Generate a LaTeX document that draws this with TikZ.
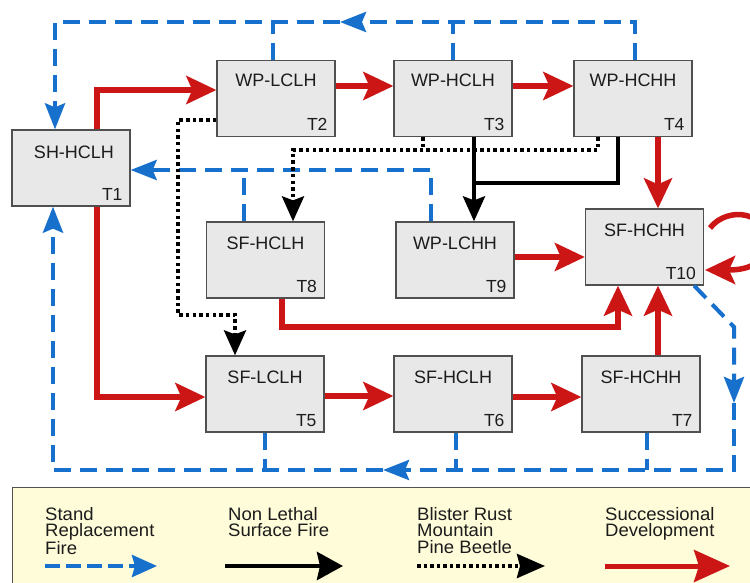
\documentclass[tikz,border=0pt]{standalone}
\usepackage{fontspec}
\setmainfont{Liberation Sans}
\newfontfamily\legendfont[FakeStretch=1.03]{Liberation Sans}
\usetikzlibrary{arrows.meta,calc}
\definecolor{succred}{RGB}{204,22,22}
\definecolor{fireblue}{RGB}{22,112,204}
\definecolor{boxfill}{RGB}{232,232,232}
\definecolor{boxline}{RGB}{80,80,80}
\definecolor{legfill}{RGB}{255,252,218}
\definecolor{textc}{RGB}{28,28,28}
\begin{document}
\begin{tikzpicture}[x=1pt,y=-1pt,
  box/.style={draw=boxline, line width=1.3pt, fill=boxfill, minimum width=118pt, minimum height=76pt, inner sep=0pt},
  nm/.style={font=\fontsize{18}{20}\selectfont, text=textc, inner sep=0pt},
  tg/.style={font=\fontsize{17.5}{20}\selectfont, text=textc, inner sep=0pt, anchor=south east},
  lg/.style={font=\legendfont\fontsize{18}{16.5}\selectfont, text=textc, inner sep=0pt, anchor=north west, align=left},
  succ/.style={draw=succred, line width=5.5pt, -{Stealth[length=30pt,width=28pt,inset=6pt]}},
  fire/.style={draw=fireblue, line width=4pt, dash pattern=on 17pt off 9pt},
  firetip/.style={fire, -{Stealth[length=26pt,width=20pt,inset=4pt]}},
  nlf/.style={draw=black, line width=4pt},
  nlftip/.style={nlf, -{Stealth[length=25pt,width=22pt,inset=4pt]}},
  rust/.style={draw=black, line width=3.5pt, dash pattern=on 3.5pt off 3.2pt},
  rusttip/.style={rust, -{Stealth[length=25pt,width=22pt,inset=4pt]}},
]
\useasboundingbox[fill=white] (0,0) rectangle (750,583);

% ---------- boxes ----------
\node[box] (t1) at (71,168) {};
\node[box] (t2) at (276,98.5) {};
\node[box] (t3) at (453,98.5) {};
\node[box] (t4) at (633,98.5) {};
\node[box] (t8) at (265.5,260) {};
\node[box] (t9) at (455,260) {};
\node[box] (t10) at (644.5,247) {};
\node[box] (t5) at (265,394) {};
\node[box] (t6) at (453,394) {};
\node[box] (t7) at (641,394) {};

\node[nm] (n1) at ([xshift=3pt,yshift=-23pt]t1.north) {SH-HCLH};
\node[nm] (n2) at ([yshift=-20pt]t2.north) {WP-LCLH};
\node[nm] (n3) at ([yshift=-20pt]t3.north) {WP-HCLH};
\node[nm] (n4) at ([yshift=-20pt]t4.north) {WP-HCHH};
\node[nm] (n8) at ([yshift=-22pt]t8.north) {SF-HCLH};
\node[nm] (n9) at ([yshift=-22pt]t9.north) {WP-LCHH};
\node[nm] (n10) at ([yshift=-22pt]t10.north) {SF-HCHH};
\node[nm] (n5) at ([yshift=-22pt]t5.north) {SF-LCLH};
\node[nm] (n6) at ([yshift=-22pt]t6.north) {SF-HCLH};
\node[nm] (n7) at ([yshift=-22pt]t7.north) {SF-HCHH};

\node[tg] (g1) at ([xshift=-8pt,yshift=6pt]t1.south east) {T1};
\node[tg] (g2) at ([xshift=-8pt,yshift=6pt]t2.south east) {T2};
\node[tg] (g3) at ([xshift=-8pt,yshift=6pt]t3.south east) {T3};
\node[tg] (g4) at ([xshift=-8pt,yshift=6pt]t4.south east) {T4};
\node[tg] (g8) at ([xshift=-8pt,yshift=6pt]t8.south east) {T8};
\node[tg] (g9) at ([xshift=-8pt,yshift=6pt]t9.south east) {T9};
\node[tg] (g10) at ([xshift=-8pt,yshift=6pt]t10.south east) {T10};
\node[tg] (g5) at ([xshift=-8pt,yshift=6pt]t5.south east) {T5};
\node[tg] (g6) at ([xshift=-8pt,yshift=6pt]t6.south east) {T6};
\node[tg] (g7) at ([xshift=-8pt,yshift=6pt]t7.south east) {T7};

% ---------- stand replacement fire (blue dashed) ----------
\coordinate (ft) at (340,22);
\coordinate (c4) at ([xshift=2pt]t4.north);
\coordinate (c1) at ([xshift=-16pt]t1.north);
\coordinate (b2) at ([xshift=-3pt]t2.north);
\coordinate (b3) at (t3.north);
\draw[firetip] (c4) |- (ft);
\draw[firetip] (ft) -| (c1);
\draw[fire] (b2) -- (b2 |- ft);
\draw[fire] (b3) -- (b3 |- ft);

\coordinate (c9) at ([xshift=-24pt]t9.north);
\coordinate (e1) at ([yshift=-2pt]t1.east);
\coordinate (b8) at ([xshift=-21.5pt]t8.north);
\draw[firetip] (c9) |- (e1);
\draw[fire] (b8) -- (b8 |- e1);

\coordinate (d10) at ([xshift=-10pt]t10.south east);
\coordinate (dk) at (734,327);
\coordinate (dv) at (734,403);
\coordinate (dc) at (734,470);
\coordinate (dh) at (383,470);
\coordinate (u1) at ([xshift=-18pt]t1.south);
\draw[firetip] (d10) -- (dk) -- (dv);
\draw[firetip] (dv) -- (dc) -- (dh);
\draw[firetip] (dh) -| (u1);
\coordinate (b5) at (t5.south);
\coordinate (b6) at ([xshift=3pt]t6.south);
\coordinate (b7) at ([xshift=6pt]t7.south);
\draw[fire] (b5) -- (b5 |- dc);
\draw[fire] (b6) -- (b6 |- dc);
\draw[fire] (b7) -- (b7 |- dc);

% ---------- non lethal surface fire (black) ----------
\coordinate (s3) at ([xshift=21pt]t3.south);
\coordinate (s4) at ([xshift=-15pt]t4.south);
\coordinate (j) at (474,183);
\draw[nlf] (s4) |- (j);
\draw[nlftip] (s3) -- (s3 |- t9.north);

% ---------- blister rust / pine beetle (dotted) ----------
\coordinate (w2) at ([yshift=-21.5pt]t2.west);
\coordinate (rk1) at (178,315);
\coordinate (r5) at ([xshift=-30pt]t5.north);
\draw[rusttip] (w2) -| (rk1) -| (r5);
\coordinate (r3) at ([xshift=-30pt]t3.south);
\coordinate (r4) at ([xshift=-35pt]t4.south);
\coordinate (rk2) at (293,150);
\coordinate (r8) at ([xshift=27.5pt]t8.north);
\draw[rust] (r3) -- (r3 |- rk2);
\draw[rusttip] (r4) |- (rk2) -- (r8);

% ---------- successional development (red) ----------
\draw[succ] ([xshift=26pt]t1.north) |- ([yshift=8.5pt]t2.west);
\draw[succ] ([xshift=26pt]t1.south) |- ([yshift=-3pt]t5.west);
\draw[succ] ([yshift=12.5pt]t2.east) -- ([yshift=12.5pt]t3.west);
\draw[succ] ([yshift=12.5pt]t3.east) -- ([yshift=12.5pt]t4.west);
\draw[succ] ([xshift=25pt]t4.south) -- ([xshift=13.5pt]t10.north);
\draw[succ] ([yshift=3pt]t9.east) -- ([yshift=-10pt]t10.west);
\coordinate (k8) at (282,327);
\draw[succ] ([xshift=16.5pt]t8.south) -- (k8) -| ([xshift=-26.5pt]t10.south);
\draw[succ] ([xshift=17pt]t7.north) -- ([xshift=13.5pt]t10.south);
\draw[succ] ([yshift=-2pt]t5.east) -- ([yshift=-2pt]t6.west);
\draw[succ] ([yshift=-3pt]t6.east) -- ([yshift=-3pt]t7.west);
\coordinate (lp1) at (710,228);
\coordinate (lp2) at (705,270);
\draw[succ] (lp1) .. controls (728,205) and (770,212) .. (766,245) .. controls (763,266) and (745,270) .. (lp2);

% ---------- legend ----------
\node[draw=boxline, line width=1.3pt, fill=legfill, minimum width=760pt, minimum height=120pt, anchor=north west, inner sep=0pt] (legend) at (12,487) {};
\node[lg] (lt1) at (45,507) {Stand\\Replacement\\Fire};
\node[lg] (lt2) at (228,507) {Non Lethal\\Surface Fire};
\node[lg] (lt3) at (417,507) {Blister Rust\\Mountain\\Pine Beetle};
\node[lg] (lt4) at (605,507) {Successional\\Development};
\coordinate (la1) at (45,566); \coordinate (la2) at (157,566);
\coordinate (lb1) at (225,566); \coordinate (lb2) at (343,566);
\coordinate (lc1) at (417,566); \coordinate (lc2) at (545,566);
\coordinate (ld1) at (605,566); \coordinate (ld2) at (730,566);
\draw[draw=fireblue, line width=4pt, dash pattern=on 15pt off 6pt, -{Stealth[length=25pt,width=22pt,inset=3pt]}] (la1) -- (la2);
\draw[nlf, line width=4.5pt, -{Stealth[length=26pt,width=28pt,inset=3pt]}] (lb1) -- (lb2);
\draw[rust, line width=4pt, dash pattern=on 3.5pt off 3pt, -{Stealth[length=28pt,width=24pt,inset=3pt]}] (lc1) -- (lc2);
\draw[draw=succred, line width=5pt, -{Stealth[length=36pt,width=32pt,inset=5pt]}] (ld1) -- (ld2);
\end{tikzpicture}
\end{document}
